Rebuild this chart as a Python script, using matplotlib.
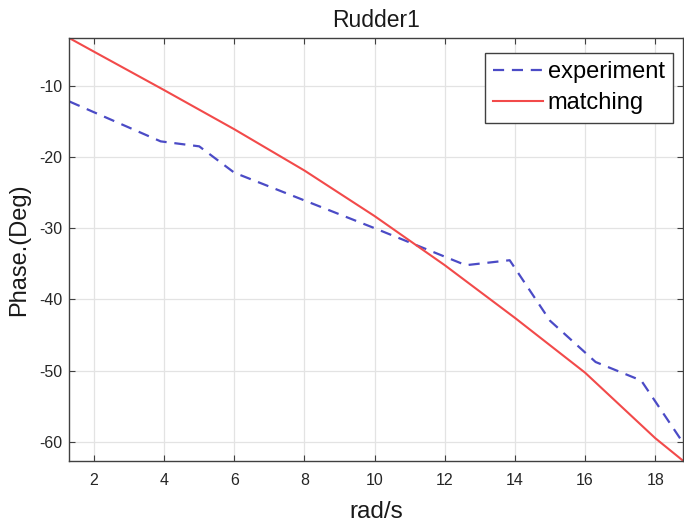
import matplotlib

matplotlib.use("Agg")
import matplotlib.pyplot as plt  # noqa: E402

# values
exp_freq = [1.3, 3.9, 5.0, 6.0, 8.0, 10.0, 12.6, 13.85, 15.0, 16.3, 17.6, 18.8]
exp_phase = [-12.2, -17.8, -18.5, -22.2, -26.1, -30.0, -35.2, -34.5, -43.0, -48.8, -51.4, -60.2]

fit_freq = [1.3, 2, 4, 6, 8, 10, 12, 14, 16, 18, 18.8]
fit_phase = [-3.3, -5.2, -10.6, -16.1, -21.9, -28.3, -35.2, -42.6, -50.3, -59.5, -62.7]

x_ticks = [2, 4, 6, 8, 10, 12, 14, 16, 18]
y_ticks = [-10, -20, -30, -40, -50, -60]

plt.rcParams["font.family"] = ["Liberation Sans", "DejaVu Sans"]
plt.rcParams["axes.unicode_minus"] = False

fig = plt.figure(figsize=(6.84, 5.25), dpi=100)
ax = fig.add_axes([0.101, 0.122, 0.898, 0.806])

ax.plot(exp_freq, exp_phase, color="#4b4bc6", linestyle=(0, (5, 3.5)), linewidth=1.6,
        label="experiment")
ax.plot(fit_freq, fit_phase, color="#f24a4a", linewidth=1.5, label="matching")

ax.set_xlim(1.29, 18.8)
ax.set_ylim(-62.7, -3.25)
ax.set_xticks(x_ticks)
ax.set_yticks(y_ticks)
ax.grid(color="#e3e3e3", linewidth=0.9)
ax.set_axisbelow(True)

for s in ax.spines.values():
    s.set_color("#404040")
    s.set_linewidth(1.0)
ax.tick_params(direction="in", top=True, right=True, length=4, color="#404040",
               labelsize=11.5, labelcolor="#262626")
ax.tick_params(axis="x", pad=9)
ax.tick_params(axis="y", pad=5)

ax.set_title("Rudder1", fontsize=16.5, color="#1a1a1a", pad=8)
ax.set_xlabel("rad/s", fontsize=17.5, color="#1a1a1a", labelpad=9)
ax.set_ylabel("Phase.(Deg)", fontsize=17, color="#1a1a1a", labelpad=6)

leg = ax.legend(loc="upper right", bbox_to_anchor=(0.983, 0.965), fontsize=17,
                fancybox=False, framealpha=1, edgecolor="#404040",
                handlelength=2.1, handletextpad=0.2, borderpad=0.35,
                labelspacing=0.4, borderaxespad=0.0)
leg.get_frame().set_linewidth(1.0)

fig.savefig("out.png", dpi=100, facecolor="white")
